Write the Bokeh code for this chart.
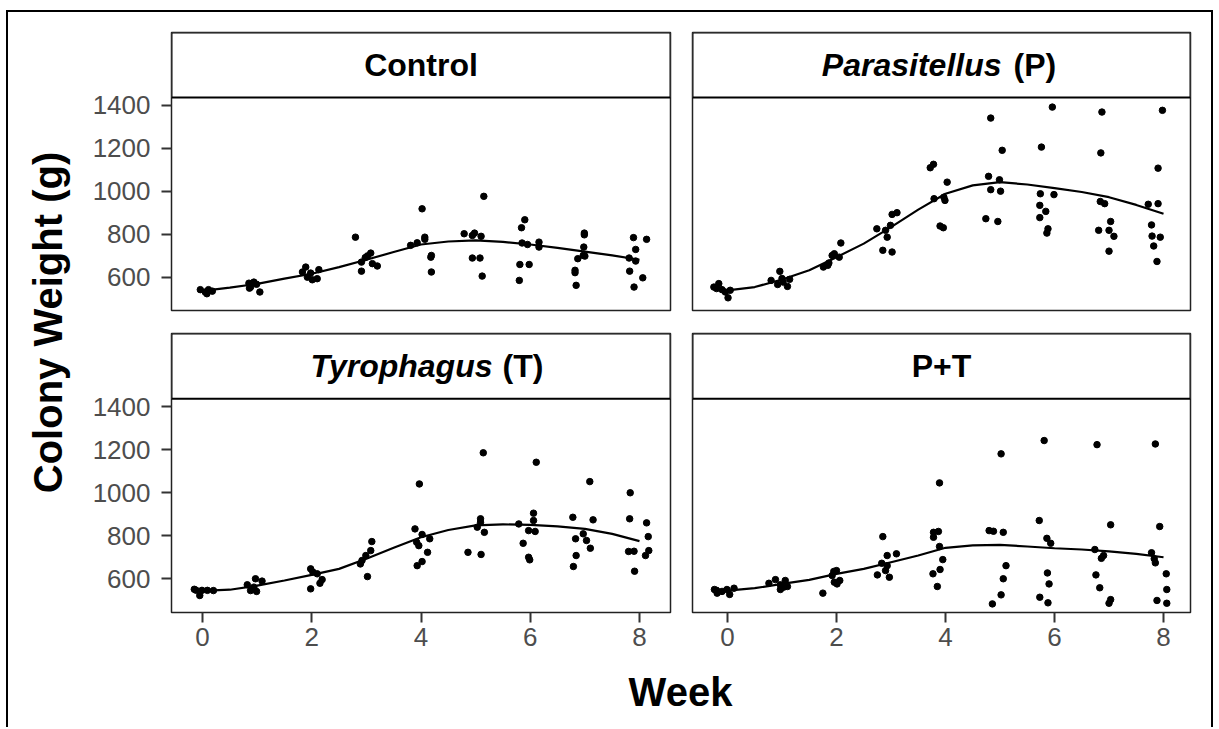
import math

from bokeh.embed import file_html
from bokeh.models import Column, FixedTicker, Label, Range1d, Row
from bokeh.plotting import figure
from bokeh.resources import INLINE

# ---------------------------------------------------------------- data
# jittered week positions and colony weights (g) for each treatment
control_week = [-0.04, 0.05, 0.11, 0.08, 0.18,
                0.85, 0.88, 0.94, 0.99, 1.05, 0.86,
                1.89, 1.83, 1.92, 2.01, 2.10, 2.13, 1.98,
                2.80, 2.98, 2.91, 3.08, 3.11, 3.20, 2.91, 3.02,
                4.02, 3.81, 3.93, 4.07, 4.07, 4.18, 4.19, 4.19,
                5.15, 4.79, 4.94, 4.98, 5.10, 4.94, 5.08, 5.12,
                5.90, 5.84, 5.85, 5.95, 6.16, 6.16, 5.81, 5.98, 5.80,
                6.99, 6.99, 6.98, 6.97, 7.00, 6.87, 6.82, 6.82, 6.84,
                7.89, 7.93, 8.13, 7.81, 7.93, 7.82, 8.06, 7.90]
control_weight = [543, 532, 543, 524, 536,
                  573, 555, 578, 568, 532, 550,
                  648, 625, 601, 589, 594, 636, 620,
                  787, 692, 671, 713, 664, 653, 629, 700,
                  919, 749, 761, 787, 777, 694, 702, 625,
                  977, 803, 795, 806, 791, 690, 690, 606,
                  868, 831, 760, 753, 764, 741, 660, 660, 586,
                  806, 798, 741, 702, 699, 687, 633, 622, 563,
                  785, 730, 777, 690, 676, 629, 598, 555]

para_week = [-0.25, -0.16, -0.10, -0.04, 0.01, 0.05, -0.20,
             0.96, 0.80, 0.92, 1.02, 1.14, 1.10, 1.00,
             2.08, 1.96, 1.92, 2.05, 1.86, 1.76, 1.84,
             3.02, 3.11, 2.74, 2.90, 2.99, 2.93, 2.85, 3.02,
             3.72, 3.78, 4.03, 3.79, 3.97, 3.99, 3.90, 3.96,
             4.83, 5.04, 4.79, 4.99, 4.83, 5.01, 4.74, 4.96,
             5.96, 5.76, 5.74, 5.99, 5.73, 5.84, 5.73, 5.88, 5.86,
             6.87, 6.85, 6.84, 6.92, 7.03, 6.81, 7.00, 7.09, 7.00,
             7.98, 7.90, 7.72, 7.90, 7.78, 7.79, 7.94, 7.82, 7.88]
para_weight = [555, 571, 543, 532, 505, 540, 548,
               628, 586, 567, 578, 591, 558, 595,
               760, 710, 702, 694, 667, 648, 656,
               893, 901, 826, 819, 842, 787, 726, 718,
               1110, 1126, 1043, 966, 973, 958, 839, 831,
               1341, 1191, 1070, 1054, 1008, 1001, 873, 860,
               1392, 1206, 989, 985, 935, 907, 878, 826, 806,
               1369, 1179, 953, 943, 860, 819, 819, 791, 722,
               1377, 1108, 940, 943, 844, 792, 787, 746, 674]

tyro_week = [-0.15, -0.05, -0.01, 0.09, 0.20, -0.12,
             0.82, 0.97, 1.09, 0.88, 0.99, 0.94,
             1.98, 2.10, 2.19, 2.15, 1.98, 2.02,
             3.10, 3.08, 2.99, 2.92, 2.89, 3.02,
             3.97, 3.89, 4.02, 4.16, 3.92, 3.96, 4.12, 4.02, 3.93,
             5.14, 5.09, 5.09, 5.03, 5.16, 4.86, 5.10,
             6.11, 6.06, 6.06, 5.97, 6.09, 5.79, 5.87, 5.97, 5.99,
             7.09, 7.15, 6.78, 6.97, 6.83, 7.03, 7.10, 6.84, 6.79,
             7.83, 7.82, 8.13, 8.16, 7.80, 7.90, 8.17, 8.11, 7.91]
tyro_weight = [550, 521, 545, 545, 544, 546,
               571, 599, 588, 544, 540, 560,
               645, 622, 595, 578, 552, 630,
               772, 730, 707, 684, 668, 609,
               1040, 831, 805, 785, 769, 753, 722, 679, 660,
               1185, 878, 862, 839, 815, 722, 712,
               1141, 904, 870, 823, 819, 854, 764, 699, 687,
               1051, 873, 885, 808, 785, 777, 741, 707, 656,
               999, 878, 859, 795, 726, 727, 730, 707, 634]

pt_week = [-0.24, -0.19, -0.10, -0.01, 0.04, 0.12, -0.20,
           0.76, 0.88, 0.97, 1.06, 0.97, 1.10, 1.03,
           1.95, 2.00, 1.92, 1.96, 2.01, 2.06, 1.75,
           2.85, 2.93, 3.10, 2.83, 2.93, 2.90, 2.75, 2.97,
           3.89, 3.78, 3.87, 3.78, 3.89, 3.95, 3.90, 3.77, 3.85,
           5.02, 4.80, 4.88, 5.06, 5.11, 5.06, 5.02, 4.86,
           5.81, 5.72, 5.86, 5.93, 5.87, 5.90, 5.73, 5.88,
           6.78, 7.03, 6.74, 6.90, 6.86, 6.76, 6.83, 7.03, 7.00,
           7.85, 7.93, 7.78, 7.83, 7.85, 8.05, 8.06, 7.88, 8.06]
pt_weight = [549, 532, 540, 549, 526, 555, 545,
             578, 595, 571, 591, 549, 563, 560,
             633, 637, 614, 583, 575, 591, 532,
             795, 707, 715, 671, 660, 637, 617, 606,
             1045, 815, 819, 792, 749, 688, 642, 622, 563,
             1180, 823, 820, 815, 660, 599, 524, 482,
             1242, 870, 787, 764, 626, 575, 513, 487,
             1223, 850, 735, 707, 694, 617, 557, 502, 485,
             1226, 842, 720, 692, 673, 622, 549, 498, 485]

# fitted trend for each treatment, sampled every half week
smooth_week = [0, 0.5, 1, 1.5, 2, 2.5, 3, 3.5, 4, 4.5, 5, 5.5, 6, 6.5, 7, 7.5, 8]
control_smooth = [537, 552, 570, 594, 617, 648, 682, 718, 753, 767, 772, 765, 753, 737, 720, 702, 682]
para_smooth = [540, 555, 590, 633, 694, 757, 834, 915, 989, 1028, 1043, 1032, 1015, 997, 973, 937, 896]
tyro_smooth = [543, 548, 567, 591, 617, 645, 692, 743, 792, 826, 847, 852, 850, 843, 831, 808, 774]
pt_smooth = [544, 555, 575, 594, 622, 645, 676, 707, 743, 754, 757, 749, 741, 735, 726, 715, 699]

y_ticks = [600, 800, 1000, 1200, 1400]
x_ticks = [0, 2, 4, 6, 8]

# ---------------------------------------------------------------- style
FONT = "Liberation Sans"
TICK_GREY = "#4D4D4D"
LINE_GREY = "#333333"

LEFT_W, LEFT_BL, LEFT_BR = 586, 85, 2
RIGHT_W, RIGHT_BL, RIGHT_BR = 539, 20, 21
LEFT_XR = (-0.5675, 8.5675)
RIGHT_XR = (-0.642, 8.495)

# each facet figure holds its label strip above the data area:
# the strip occupies the value band from STRIP_LO up to the top of the range
STRIP_LO = 1437
TOP_YR = (446, 1739)
BOTTOM_YR = (442, 1740)
STRIP_PX = 65


def facet(week, weight, smooth, title_parts, width, height, bl, br, bt, bb, xr, yr,
          show_x, show_y):
    fw = width - bl - br
    p = figure(width=width, height=height, x_range=Range1d(*xr), y_range=Range1d(*yr),
               min_border_left=bl, min_border_right=br, min_border_top=bt, min_border_bottom=bb,
               toolbar_location=None, output_backend="svg",
               x_axis_location="below" if show_x else None,
               y_axis_location="left" if show_y else None)
    p.grid.visible = False
    p.background_fill_color = "white"
    p.border_fill_color = "white"
    p.outline_line_color = "#222222"
    p.outline_line_width = 1.5
    for ax, ticks in ((p.xaxis, x_ticks), (p.yaxis, y_ticks)):
        for a in ax:
            a.ticker = FixedTicker(ticks=ticks)
            a.axis_line_color = None
            a.major_tick_in = 0
            a.major_tick_out = 10
            a.minor_tick_out = 0
            a.minor_tick_in = 0
            a.major_tick_line_color = LINE_GREY
            a.major_tick_line_width = 2
            a.major_label_text_font = FONT
            a.major_label_text_font_size = "26px"
            a.major_label_text_color = TICK_GREY
    for a in p.yaxis:
        a.major_label_standoff = 11
    for a in p.xaxis:
        a.major_label_standoff = 5

    # label strip
    p.quad(left=xr[0], right=xr[1], bottom=STRIP_LO, top=yr[1],
           fill_color="white", line_color="black", line_width=2)
    per_px = (xr[1] - xr[0]) / fw
    label_y = (STRIP_LO + yr[1]) / 2
    for off, txt, style, align in title_parts:
        x = (xr[0] + xr[1]) / 2 if off is None else xr[0] + off * per_px
        p.add_layout(Label(x=x, y=label_y, text=txt, text_font=FONT, text_font_size="32px",
                           text_font_style=style, text_align=align,
                           text_baseline="middle", text_color="black"))

    p.line(smooth_week, smooth, line_color="black", line_width=2.2)
    p.scatter(week, weight, size=6.5, fill_color="black", line_color="black")
    return p


TOP_H, BOTTOM_H, WEEK_H = 319, 329, 67

f_ctrl = facet(control_week, control_weight, control_smooth,
               [(None, "Control", "bold", "center")],
               LEFT_W, TOP_H, LEFT_BL, LEFT_BR, 20, 21, LEFT_XR, TOP_YR, False, True)
f_para = facet(para_week, para_weight, para_smooth,
               [(309, "Parasitellus", "bold italic", "right"), (321, "(P)", "bold", "left")],
               RIGHT_W, TOP_H, RIGHT_BL, RIGHT_BR, 20, 21, RIGHT_XR, TOP_YR, False, False)
f_tyro = facet(tyro_week, tyro_weight, tyro_smooth,
               [(321, "Tyrophagus", "bold italic", "right"), (331, "(T)", "bold", "left")],
               LEFT_W, BOTTOM_H, LEFT_BL, LEFT_BR, 2, 48, LEFT_XR, BOTTOM_YR, True, True)
f_pt = facet(pt_week, pt_weight, pt_smooth,
             [(None, "P+T", "bold", "center")],
             RIGHT_W, BOTTOM_H, RIGHT_BL, RIGHT_BR, 2, 48, RIGHT_XR, BOTTOM_YR, True, False)


def blank(width, height):
    p = figure(width=width, height=height, x_range=Range1d(0, width), y_range=Range1d(height, 0),
               toolbar_location=None, output_backend="svg",
               x_axis_location=None, y_axis_location=None,
               min_border_left=0, min_border_right=0, min_border_top=0, min_border_bottom=0)
    p.grid.visible = False
    p.outline_line_color = None
    p.background_fill_color = "white"
    p.border_fill_color = "white"
    return p


# shared axis titles
week_fig = blank(LEFT_W + RIGHT_W, WEEK_H)
week_fig.add_layout(Label(x=594, y=31, text="Week", text_font=FONT, text_font_size="40px",
                          text_font_style="bold", text_align="center", text_baseline="middle",
                          text_color="black"))

total_h = TOP_H + BOTTOM_H + WEEK_H
ylab_fig = blank(78, total_h)
ylab_fig.add_layout(Label(x=39, y=310, text="Colony Weight (g)", angle=math.pi / 2,
                          text_font=FONT, text_font_size="40px", text_font_style="bold",
                          text_align="center", text_baseline="middle", text_color="black"))

grid = Column(children=[Row(children=[f_ctrl, f_para]),
                        Row(children=[f_tyro, f_pt]),
                        week_fig])
root = Row(children=[ylab_fig, grid], margin=(10, 0, 0, 6),
           styles={"border-left": "2px solid black", "border-top": "2px solid black",
                   "border-right": "2px solid black"})

open("out.html", "w").write(file_html(root, INLINE))
